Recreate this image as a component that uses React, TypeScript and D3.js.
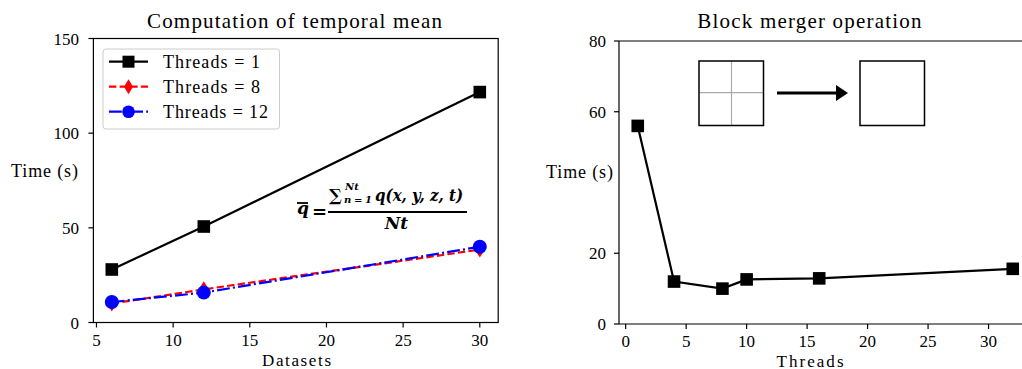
import React from "react";
import * as d3 from "d3";

const datasets = [6, 12, 30];
const threads1 = [28, 50.7, 121.7];
const threads8 = [10, 17.5, 38.5];
const threads12 = [10.8, 15.8, 40];
const leftXTicks = [5, 10, 15, 20, 25, 30];
const leftYTicks = [0, 50, 100, 150];

const threadCounts = [1, 4, 8, 10, 16, 32];
const mergeTimes = [56, 12, 10, 12.6, 12.9, 15.6];
const rightXTicks = [0, 5, 10, 15, 20, 25, 30];
const rightYTicks = [0, 20, 60, 80];

const FONT = "'Liberation Serif', 'DejaVu Serif', serif";

function Diamond({ cx, cy, color, w = 5, h = 8 }: { cx: number; cy: number; color: string; w?: number; h?: number }) {
  return <path d={`M${cx},${cy - h} L${cx + w},${cy} L${cx},${cy + h} L${cx - w},${cy} Z`} fill={color} />;
}

export default function App() {
  const W = 1022, H = 369;
  // left panel
  const L = { l: 93.4, r: 498.2, t: 38.5, b: 322.5 };
  const lx = d3.scaleLinear().domain([4.8, 31.2]).range([L.l, L.r]);
  const ly = d3.scaleLinear().domain([0, 150]).range([L.b, L.t]);
  // right panel
  const R = { l: 619, r: 1031.5, t: 41, b: 324 };
  const rx = d3.scaleLinear().domain([-0.55, 33.55]).range([R.l, R.r]);
  const ry = d3.scaleLinear().domain([0, 80]).range([R.b, R.t]);

  const lineL = (ys: number[]) =>
    d3.line<number>().x((_, i) => lx(datasets[i])).y((d) => ly(d))(ys) || "";
  const lineR =
    d3.line<number>().x((_, i) => rx(threadCounts[i])).y((d) => ry(d))(mergeTimes) || "";

  const ms = 6.3;
  const dashRed = "7.4,3.2";
  const dashBlue = "12.8,3.2,2,3.2";
  return (
    <svg width={W} height={H} style={{ position: "absolute", left: 0, top: 0, background: "#fff" }} fontFamily={FONT}>
      <rect width={W} height={H} fill="#fff" />
      {/* LEFT PANEL */}
      <text x={294.5} y={28} fontSize={21} textAnchor="middle" textLength={295} lengthAdjust="spacing">Computation of temporal mean</text>
      <path d={lineL(threads1)} fill="none" stroke="#000" strokeWidth={2.2} />
      {datasets.map((d, i) => (
        <rect key={"s" + i} x={lx(d) - ms} y={ly(threads1[i]) - ms} width={2 * ms} height={2 * ms} fill="#000" />
      ))}
      <path d={lineL(threads8)} fill="none" stroke="#ff0000" strokeWidth={2.2} strokeDasharray={dashRed} />
      {datasets.map((d, i) => (
        <Diamond key={"d" + i} cx={lx(d)} cy={ly(threads8[i])} color="#ff0000" />
      ))}
      <path d={lineL(threads12)} fill="none" stroke="#0000ff" strokeWidth={2.2} strokeDasharray={dashBlue} />
      {datasets.map((d, i) => (
        <circle key={"c" + i} cx={lx(d)} cy={ly(threads12[i])} r={7} fill="#0000ff" />
      ))}
      <rect x={L.l} y={L.t} width={L.r - L.l} height={L.b - L.t} fill="none" stroke="#000" strokeWidth={1.2} />
      {leftXTicks.map((t) => (
        <g key={"lx" + t}>
          <line x1={lx(t)} x2={lx(t)} y1={L.b} y2={L.b + 5} stroke="#000" strokeWidth={1.2} />
          <text x={lx(t)} y={345.5} fontSize={17} textAnchor="middle">{t}</text>
        </g>
      ))}
      {leftYTicks.map((t) => (
        <g key={"ly" + t}>
          <line x1={L.l - 5} x2={L.l} y1={ly(t)} y2={ly(t)} stroke="#000" strokeWidth={1.2} />
          <text x={79} y={ly(t) + 6} fontSize={17} textAnchor="end">{t}</text>
        </g>
      ))}
      <text x={296.5} y={366} fontSize={17} textAnchor="middle" textLength={69} lengthAdjust="spacing">Datasets</text>
      <text x={44.5} y={177} fontSize={18} textAnchor="middle" textLength={67} lengthAdjust="spacing">Time (s)</text>
      {/* legend */}
      <rect x={103} y={49} width={176.5} height={80} rx={3} fill="#fff" stroke="#cccccc" />
      <line x1={109} x2={148} y1={61.7} y2={61.7} stroke="#000" strokeWidth={2.2} />
      <rect x={122.5} y={55.7} width={12} height={12} fill="#000" />
      <text x={163} y={67.5} fontSize={18} textLength={97} lengthAdjust="spacing">Threads = 1</text>
      <line x1={109} x2={148} y1={86.7} y2={86.7} stroke="#ff0000" strokeWidth={2.2} strokeDasharray={dashRed} />
      <Diamond cx={128.5} cy={86.7} color="#ff0000" w={4.5} h={7.5} />
      <text x={163} y={92.5} fontSize={18} textLength={97} lengthAdjust="spacing">Threads = 8</text>
      <line x1={109} x2={148} y1={111.7} y2={111.7} stroke="#0000ff" strokeWidth={2.2} strokeDasharray={dashBlue} />
      <circle cx={128.5} cy={111.7} r={6.3} fill="#0000ff" />
      <text x={163} y={117.5} fontSize={18} textLength={105} lengthAdjust="spacing">Threads = 12</text>
      {/* formula */}
      <g fontFamily="'DejaVu Serif', serif" fontWeight="bold" fontStyle="italic">
        <text x={297} y={214} fontSize={17}>q</text>
        <line x1={297} x2={308} y1={203} y2={203} stroke="#000" strokeWidth={1.8} />
        <text x={312} y={218} fontSize={18} fontStyle="normal">=</text>
        <text x={329} y={201} fontSize={17} fontStyle="normal">∑</text>
        <text x={345} y={190} fontSize={10}>Nt</text>
        <text x={344} y={203} fontSize={10} textLength={28} lengthAdjust="spacing">n=1</text>
        <text x={375} y={201} fontSize={16} textLength={88} lengthAdjust="spacingAndGlyphs">q(x, y, z, t)</text>
        <line x1={328} x2={467} y1={212} y2={212} stroke="#000" strokeWidth={1.8} />
        <text x={396.5} y={229} fontSize={17} textAnchor="middle">Nt</text>
      </g>

      {/* RIGHT PANEL */}
      <text x={810} y={28} fontSize={21} textAnchor="middle" letterSpacing={1.2}>Block merger operation</text>
      <path d={lineR} fill="none" stroke="#000" strokeWidth={2.2} />
      {threadCounts.map((d, i) => (
        <rect key={"r" + i} x={rx(d) - ms} y={ry(mergeTimes[i]) - ms} width={2 * ms} height={2 * ms} fill="#000" />
      ))}
      <line x1={R.l} x2={R.l} y1={R.t} y2={R.b} stroke="#000" strokeWidth={1.2} />
      <line x1={R.l} x2={R.r} y1={R.b} y2={R.b} stroke="#000" strokeWidth={1.2} />
      <line x1={R.l} x2={R.r} y1={R.t} y2={R.t} stroke="#000" strokeWidth={1.2} />
      {rightXTicks.map((t) => (
        <g key={"rx" + t}>
          <line x1={rx(t)} x2={rx(t)} y1={R.b} y2={R.b + 5} stroke="#000" strokeWidth={1.2} />
          <text x={rx(t)} y={346.5} fontSize={17} textAnchor="middle">{t}</text>
        </g>
      ))}
      {rightYTicks.map((t) => (
        <g key={"ry" + t}>
          <line x1={R.l - 5} x2={R.l} y1={ry(t)} y2={ry(t)} stroke="#000" strokeWidth={1.2} />
          <text x={R.l - 13} y={ry(t) + 6} fontSize={17} textAnchor="end">{t}</text>
        </g>
      ))}
      <text x={810} y={366.5} fontSize={17} textAnchor="middle" textLength={67} lengthAdjust="spacing">Threads</text>
      <text x={579.5} y={178} fontSize={18} textAnchor="middle" textLength={67} lengthAdjust="spacing">Time (s)</text>
      {/* diagram */}
      <line x1={731.5} x2={731.5} y1={61} y2={125.5} stroke="#aaa" strokeWidth={1.2} />
      <line x1={699} x2={763.5} y1={92.7} y2={92.7} stroke="#aaa" strokeWidth={1.2} />
      <rect x={699} y={61} width={64.5} height={64.5} fill="none" stroke="#000" strokeWidth={1.5} />
      <line x1={777} x2={838} y1={93} y2={93} stroke="#000" strokeWidth={3} />
      <path d="M836,85 L848,93 L836,101 Z" fill="#000" />
      <rect x={860} y={61} width={64.5} height={64.5} fill="none" stroke="#000" strokeWidth={1.5} />
    </svg>
  );
}
